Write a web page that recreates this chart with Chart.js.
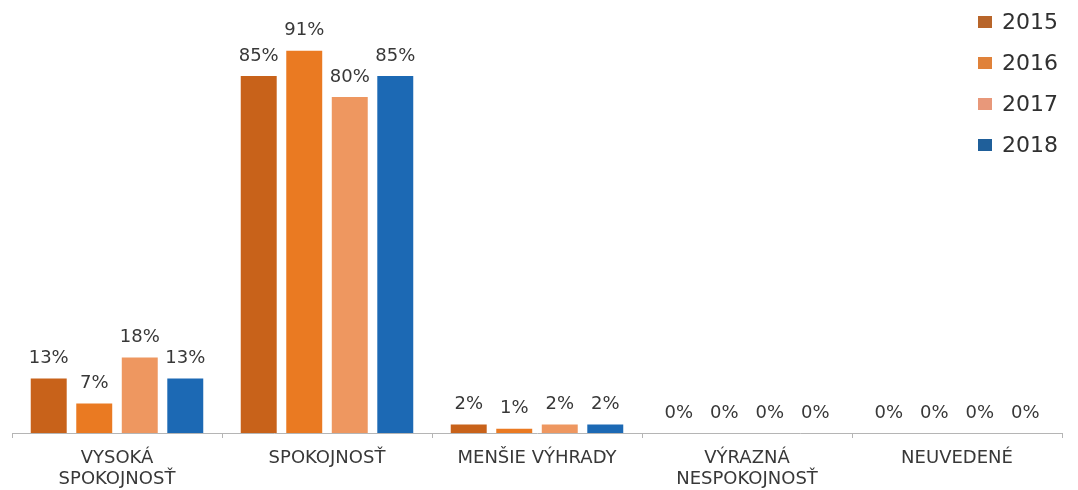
<!DOCTYPE html>
<html>
<head>
<meta charset="utf-8">
<script src="https://cdn.jsdelivr.net/npm/chart.js@4"></script>
<style>
html,body{margin:0;padding:0;background:#fff;}
#wrap{width:1078px;height:490px;position:relative;}
</style>
</head>
<body>
<div id="wrap"><canvas id="c" width="1078" height="490"></canvas></div>
<script>
const categories = [['VYSOKÁ','SPOKOJNOSŤ'], 'SPOKOJNOSŤ', 'MENŠIE VÝHRADY', ['VÝRAZNÁ','NESPOKOJNOSŤ'], 'NEUVEDENÉ'];
const seriesNames = ['2015','2016','2017','2018'];
const values2015 = [13, 85, 2, 0, 0];
const values2016 = [7, 91, 1, 0, 0];
const values2017 = [18, 80, 2, 0, 0];
const values2018 = [13, 85, 2, 0, 0];
const colors = ['#c8621a', '#ea7a22', '#ee9760', '#1c69b4'];
const legendColors = ['#b8652a', '#e0823a', '#e8987a', '#1f5f9a'];

const allValues = [values2015, values2016, values2017, values2018];
const FONT = "'DejaVu Sans', Verdana, sans-serif";

const labelPlugin = {
  id: 'valueLabels',
  afterDatasetsDraw(chart) {
    const ctx = chart.ctx;
    ctx.save();
    ctx.font = '18px ' + FONT;
    ctx.fillStyle = '#383838';
    ctx.textAlign = 'center';
    ctx.textBaseline = 'bottom';
    chart.data.datasets.forEach((ds, i) => {
      const meta = chart.getDatasetMeta(i);
      meta.data.forEach((bar, j) => {
        ctx.fillText(ds.data[j] + '%', bar.x, bar.y - 11);
      });
    });
    ctx.restore();
  }
};

const legendPlugin = {
  id: 'customLegend',
  afterDraw(chart) {
    const ctx = chart.ctx;
    ctx.save();
    ctx.font = '22px ' + FONT;
    ctx.textBaseline = 'middle';
    ctx.textAlign = 'left';
    chart.data.datasets.forEach((ds, i) => {
      const cy = 22 + i * 41;
      ctx.fillStyle = legendColors[i];
      ctx.fillRect(978, cy - 6, 14, 12);
      ctx.fillStyle = '#303030';
      ctx.fillText(ds.label, 1002, cy + 1);
    });
    ctx.restore();
  }
};

new Chart(document.getElementById('c'), {
  type: 'bar',
  data: {
    labels: categories,
    datasets: seriesNames.map((n, i) => ({
      label: n,
      data: allValues[i],
      backgroundColor: colors[i],
      borderWidth: 0,
      categoryPercentage: 0.867,
      barPercentage: 0.79
    }))
  },
  options: {
    responsive: false,
    animation: false,
    layout: { padding: { left: 12, right: 16, top: 13, bottom: 0 } },
    plugins: { legend: { display: false }, tooltip: { enabled: false } },
    scales: {
      x: {
        afterFit(scale) { scale.height = 57; },
        grid: { display: true, drawOnChartArea: false, drawTicks: true, tickLength: 5, color: '#b5b5b5', offset: true },
        border: { display: true, color: '#b5b5b5', width: 1 },
        ticks: { color: '#383838', font: { family: FONT, size: 18, lineHeight: 1.15 }, padding: 10, maxRotation: 0, autoSkip: false }
      },
      y: {
        display: false,
        min: 0,
        max: 100
      }
    }
  },
  plugins: [labelPlugin, legendPlugin]
});
</script>
</body>
</html>
